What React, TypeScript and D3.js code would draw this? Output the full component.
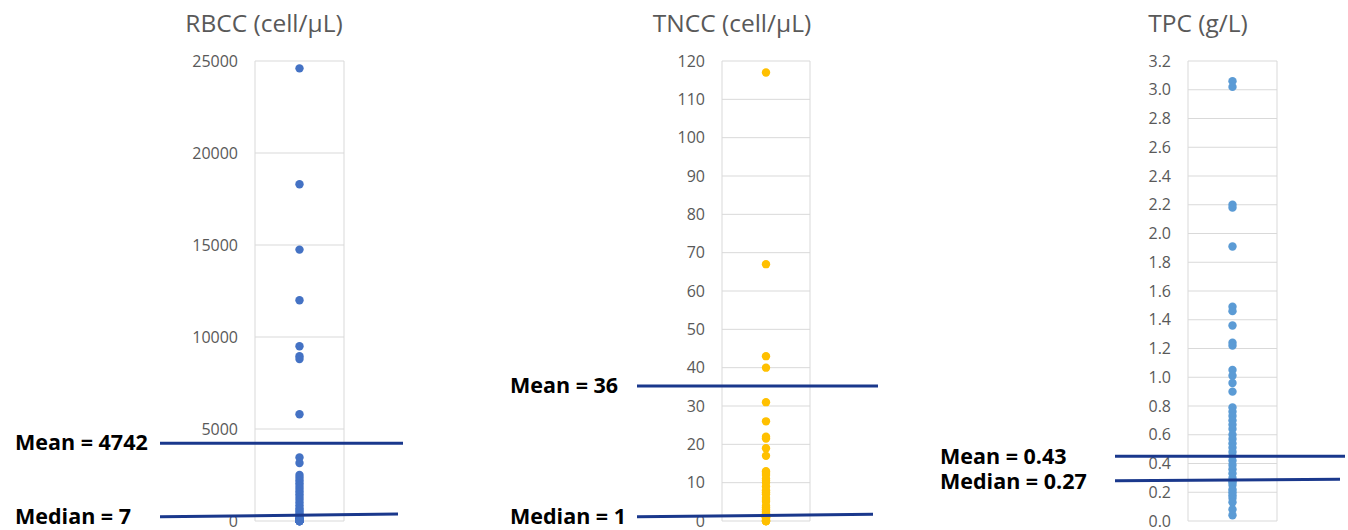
import React from "react";
import * as d3 from "d3";

// values (each dot one sample)
const rbccValues = [
  24600, 18300, 14750, 12000, 9500, 8950, 8800, 5800, 3450, 3150, 2500, 2350,
  2200, 2050, 1900, 1750, 1600, 1450, 1300, 1150, 1000, 850, 700, 600, 500,
  400, 300, 200, 150, 100, 60, 30, 20, 10, 8, 7, 5, 3, 2, 1, 0, 0, 0, 0, 0,
];
const tnccValues = [
  117, 67, 43, 40, 31, 26, 22, 21.5, 19, 17, 13, 12.5, 12, 11, 10.5, 10, 9, 8,
  7.5, 7, 6, 5.5, 5, 4, 3.5, 3, 2.5, 2, 1.5, 1, 1, 1, 0.5, 0.5, 0, 0, 0, 0, 0,
];
const tpcValues = [
  3.06, 3.02, 2.2, 2.18, 1.91, 1.49, 1.46, 1.36, 1.24, 1.22, 1.05, 1.01, 0.96,
  0.9, 0.79, 0.76, 0.73, 0.7, 0.67, 0.64, 0.6, 0.57, 0.54, 0.51, 0.48, 0.45,
  0.42, 0.39, 0.36, 0.33, 0.3, 0.28, 0.27, 0.25, 0.22, 0.2, 0.18, 0.16, 0.13,
  0.08, 0.04,
];

const titles = ["RBCC (cell/\u03bcL)", "TNCC (cell/\u03bcL)", "TPC (g/L)"];
const meanLabels = ["Mean = 4742", "Mean = 36", "Mean = 0.43"];
const medianLabels = ["Median = 7", "Median = 1", "Median = 0.27"];
// where the hand-drawn lines sit on each axis: [left end, right end]
const meanLines = [[4230, 4230], [35.2, 35.2], [0.451, 0.451]];
const medianLines = [[230, 380], [1.1, 1.75], [0.28, 0.29]];

const FONT = "'Open Sans', sans-serif";
const TOP = 61;
const BOTTOM = 521;

const panels = [
  {
    values: rbccValues, max: 25000, step: 5000, fmt: d3.format("d"), color: "#4472C4",
    x0: 255, x1: 344, lineX: [160, 403], labelX: 15, meanY: 450, medianY: 524, titleX: 264,
  },
  {
    values: tnccValues, max: 120, step: 10, fmt: d3.format("d"), color: "#FFC000",
    x0: 722, x1: 810, lineX: [637, 878], labelX: 510, meanY: 393, medianY: 524, titleX: 732,
  },
  {
    values: tpcValues, max: 3.2, step: 0.2, fmt: d3.format(".1f"), color: "#5B9BD5",
    x0: 1188, x1: 1277, lineX: [1115, 1345], labelX: 940, meanY: 464, medianY: 489, titleX: 1198,
  },
];

const Panel = ({ p, i }) => {
  const y = d3.scaleLinear().domain([0, p.max]).range([BOTTOM, TOP]);
  const ticks = d3.range(0, p.max + p.step / 2, p.step);
  const cx = (p.x0 + p.x1) / 2;
  return (
    <g>
      <text x={p.titleX} y={32} textAnchor="middle" fontSize={24.5} fill="#595959" fontFamily={FONT}>
        {titles[i]}
      </text>
      {ticks.map((t) => (
        <g key={t}>
          <line x1={p.x0} x2={p.x1} y1={y(t)} y2={y(t)} stroke="#d9d9d9" />
          <text x={p.x0 - 17} y={y(t)} dy="0.35em" textAnchor="end" fontSize={16} fill="#595959" fontFamily={FONT}>
            {p.fmt(t)}
          </text>
        </g>
      ))}
      <line x1={p.x0} x2={p.x0} y1={TOP} y2={BOTTOM} stroke="#d9d9d9" />
      <line x1={p.x1} x2={p.x1} y1={TOP} y2={BOTTOM} stroke="#d9d9d9" />
      {p.values.map((v, k) => (
        <circle key={k} cx={cx} cy={y(v)} r={4.2} fill={p.color} />
      ))}
      <line x1={p.lineX[0]} x2={p.lineX[1]} y1={y(meanLines[i][0])} y2={y(meanLines[i][1])} stroke="#1A388C" strokeWidth={3} />
      <line x1={p.lineX[0]} x2={p.lineX[1] - 5} y1={y(medianLines[i][0])} y2={y(medianLines[i][1])} stroke="#1A388C" strokeWidth={3} />
      <text x={p.labelX} y={p.meanY} fontSize={21.5} fontWeight="bold" fill="#000" fontFamily={FONT}>
        {meanLabels[i]}
      </text>
      <text x={p.labelX} y={p.medianY} fontSize={21.5} fontWeight="bold" fill="#000" fontFamily={FONT}>
        {medianLabels[i]}
      </text>
    </g>
  );
};

export default function App() {
  return (
    <svg width={1348} height={530} style={{ position: "absolute", left: 0, top: 0, background: "#fff" }}>
      {panels.map((p, i) => (
        <Panel key={i} p={p} i={i} />
      ))}
    </svg>
  );
}
